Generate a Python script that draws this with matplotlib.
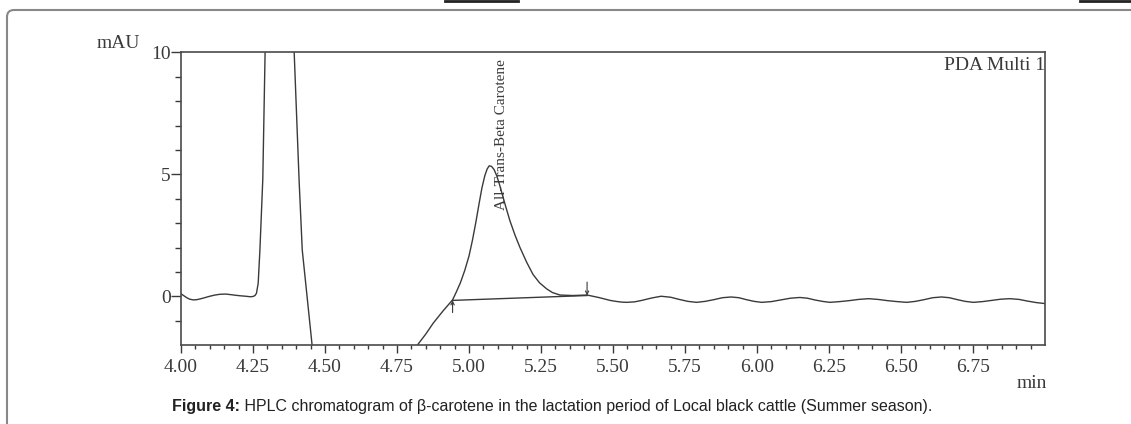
import matplotlib
matplotlib.use("Agg")
import matplotlib.pyplot as plt
import numpy as np
from matplotlib.patches import FancyBboxPatch
from matplotlib.lines import Line2D
from matplotlib.transforms import IdentityTransform

#-------------------- chromatogram trace (min, mAU) --------------------
t_min = [4.000, 4.010, 4.020, 4.030, 4.043, 4.055, 4.070, 4.085, 4.100, 4.118, 4.135,
         4.155, 4.170, 4.190, 4.205, 4.225, 4.240, 4.250, 4.257, 4.262,
         4.268, 4.274, 4.284, 4.292, 4.300, 4.340, 4.385, 4.393, 4.410, 4.421, 4.455,
         4.520, 4.700, 4.790, 4.819, 4.850, 4.876, 4.910, 4.943, 4.955, 4.970, 4.985,
         5.000, 5.012, 5.024, 5.035, 5.045, 5.055, 5.063, 5.070, 5.078, 5.087, 5.096,
         5.105, 5.115, 5.127, 5.142, 5.160, 5.177, 5.200, 5.222, 5.245, 5.270, 5.290,
         5.316, 5.360, 5.410,
         5.430, 5.450, 5.470, 5.490, 5.510, 5.530, 5.547, 5.575, 5.600, 5.635, 5.667,
         5.700, 5.730, 5.760, 5.790, 5.820, 5.850, 5.880, 5.910, 5.937, 5.963, 5.990,
         6.016, 6.050, 6.083, 6.116, 6.149, 6.175, 6.200, 6.227, 6.253, 6.287, 6.320,
         6.353, 6.387, 6.420, 6.453, 6.487, 6.520, 6.550, 6.580, 6.610, 6.641, 6.668,
         6.696, 6.723, 6.751, 6.783, 6.815, 6.847, 6.878, 6.910, 6.940, 6.970, 7.000]
mau = [0.10, 0.02, -0.06, -0.12, -0.15, -0.14, -0.10, -0.05, 0.00, 0.05, 0.08,
       0.09, 0.07, 0.04, 0.02, 0.00, -0.02, -0.01, 0.03, 0.12,
       0.53, 1.90, 4.80, 10.0, 14.0, 60.0, 14.0, 10.0, 4.77, 1.90, -1.98,
       -15.0, -14.0, -6.0, -2.03, -1.55, -1.10, -0.60, -0.15, 0.15, 0.55, 1.05,
       1.65, 2.30, 3.05, 3.80, 4.45, 4.95, 5.22, 5.35, 5.33, 5.20, 4.95,
       4.62, 4.20, 3.70, 3.10, 2.50, 2.00, 1.40, 0.90, 0.55, 0.30, 0.15,
       0.05, 0.03, 0.05,
       0.00, -0.05, -0.11, -0.17, -0.21, -0.24, -0.25, -0.23, -0.17, -0.07, 0.00,
       -0.04, -0.13, -0.21, -0.25, -0.21, -0.14, -0.06, -0.03, -0.06, -0.14, -0.21,
       -0.25, -0.22, -0.15, -0.08, -0.05, -0.08, -0.15, -0.21, -0.25, -0.22, -0.18,
       -0.13, -0.10, -0.13, -0.18, -0.22, -0.25, -0.21, -0.14, -0.06, -0.03, -0.06,
       -0.14, -0.21, -0.25, -0.22, -0.17, -0.12, -0.10, -0.13, -0.20, -0.26, -0.30]

# integration baseline (start, end) and peak label
base_t = [4.943, 5.410]
base_y = [-0.17, 0.03]
peak_name = "All-Trans-Beta Carotene"
peak_t = 5.112
peak_label_y = 3.55

x_major = [4.00, 4.25, 4.50, 4.75, 5.00, 5.25, 5.50, 5.75, 6.00, 6.25, 6.50, 6.75]
x_labels = ["4.00", "4.25", "4.50", "4.75", "5.00", "5.25", "5.50", "5.75", "6.00", "6.25", "6.50", "6.75"]
y_major = [0, 5, 10]
y_labels = ["0", "5", "10"]

caption_bold = "Figure 4:"
caption_rest = " HPLC chromatogram of \u03b2-carotene in the lactation period of Local black cattle (Summer season)."

W, H = 1131, 424
serif = ["Liberation Serif", "DejaVu Serif"]
ink = "#3a3a3a"

fig = plt.figure(figsize=(W / 100, H / 100), dpi=100)
ax = fig.add_axes([181 / W, 1 - 345 / H, (1045 - 181) / W, (345 - 52.5) / H])

ax.plot(t_min, mau, color=ink, lw=1.0, solid_joinstyle="round")
ax.plot(base_t, base_y, color=ink, lw=1.0)
# start / end arrows of the integration
ax.annotate("", xy=(base_t[0], base_y[0]), xytext=(base_t[0], base_y[0] - 0.5),
            arrowprops=dict(arrowstyle="->", color=ink, lw=0.8, shrinkA=0, shrinkB=0, mutation_scale=6))
ax.annotate("", xy=(base_t[1], base_y[1]), xytext=(base_t[1], base_y[1] + 0.55),
            arrowprops=dict(arrowstyle="->", color=ink, lw=0.8, shrinkA=0, shrinkB=0, mutation_scale=6))
ax.text(peak_t, peak_label_y, peak_name, rotation=90, ha="center", va="bottom",
        fontsize=11, family=serif, color=ink)

ax.set_xlim(4.0, 7.0)
ax.set_ylim(-2, 10)
ax.set_xticks(x_major)
ax.set_xticklabels(x_labels, family=serif, fontsize=14, color=ink)
ax.set_xticks(np.arange(4.05, 7.0, 0.05), minor=True)
ax.set_yticks(y_major)
ax.set_yticklabels(y_labels, family=serif, fontsize=14, color=ink)
ax.set_yticks(np.arange(-1, 10, 1), minor=True)
ax.tick_params(axis="x", which="major", length=6, width=1, pad=4, color=ink)
ax.tick_params(axis="x", which="minor", length=3, width=1, color=ink)
ax.tick_params(axis="y", which="major", length=7, width=1, pad=0.5, color=ink)
ax.tick_params(axis="y", which="minor", length=4, width=1, color=ink)
for s in ax.spines.values():
    s.set_color("#4a4a4a")
    s.set_linewidth(1.2)

ax.text(1.0, 0.985, "PDA Multi 1", transform=ax.transAxes, ha="right", va="top",
        fontsize=14, family=serif, color=ink)
fig.text(140 / W, 1 - 43 / H, "mAU", ha="right", va="center", fontsize=14, family=serif, color=ink)
fig.text(1047 / W, 1 - 384 / H, "min", ha="right", va="center", fontsize=14, family=serif, color=ink)

# page frame and scan marks
frame = FancyBboxPatch((7, -40), 1300, H - 10 + 40, boxstyle="round,pad=0,rounding_size=7",
                       transform=IdentityTransform(), fill=False, edgecolor="#888888", lw=1.5)
fig.patches.append(frame)
fig.add_artist(Line2D([445, 518], [H - 0.5, H - 0.5], transform=IdentityTransform(), color="#222222", lw=2))
fig.add_artist(Line2D([1080, W], [H - 0.5, H - 0.5], transform=IdentityTransform(), color="#222222", lw=2))

# caption: bold lead + normal text, sized to span the reference width
cap_font = ["Liberation Sans Narrow", "Liberation Sans", "DejaVu Sans"]
r = fig.canvas.get_renderer()
t1 = fig.text(172 / W, 1 - 407 / H, caption_bold, ha="left", va="center", fontsize=10,
              family=cap_font, weight="bold", color="#222222")
t2 = fig.text(0, 1 - 407 / H, caption_rest, ha="left", va="center", fontsize=10,
              family=cap_font, color="#222222")
w_tot = t1.get_window_extent(r).width + t2.get_window_extent(r).width
fs = 10 * (936 - 172) / w_tot
t1.set_fontsize(fs)
t2.set_fontsize(fs)
x2 = t1.get_window_extent(r).x1
t2.set_x(x2 / W)

fig.savefig("out.png", dpi=100)
